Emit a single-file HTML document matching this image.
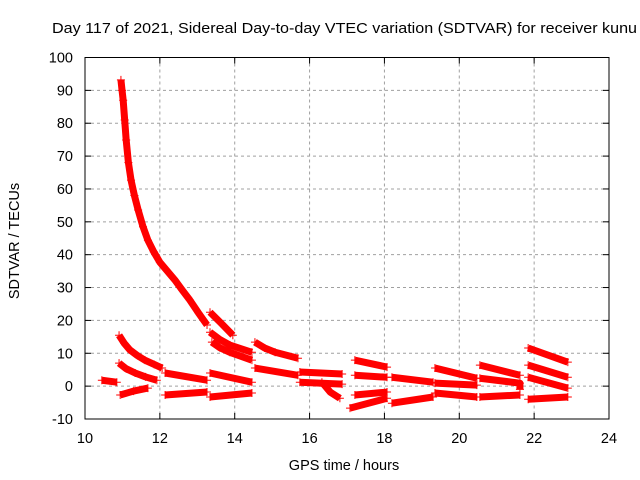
<!DOCTYPE html>
<html><head><meta charset="utf-8"><style>
html,body{margin:0;padding:0;background:#fff;}
svg{display:block;font-family:"Liberation Sans",Arial,sans-serif;}
</style></head><body>
<svg id="chart" width="640" height="480" viewBox="0 0 640 480" xmlns="http://www.w3.org/2000/svg">
<rect width="640" height="480" fill="#fff"/>
<text x="52" y="33" font-size="15" fill="#000" textLength="585" lengthAdjust="spacingAndGlyphs">Day 117 of 2021, Sidereal Day-to-day VTEC variation (SDTVAR) for receiver kunu</text>
<g id="grid"></g>
<g id="series"></g>
<g id="axes"></g>
<text x="344" y="470" font-size="14.5" text-anchor="middle">GPS time / hours</text>
<text x="0" y="0" font-size="14.5" text-anchor="middle" transform="translate(19,241) rotate(-90)">SDTVAR / TECUs</text>
</svg>
<script>
const xTicks = [10,12,14,16,18,20,22,24];
const yTicks = [-10,0,10,20,30,40,50,60,70,80,90,100];
const segT = [
 [10.96,10.99,11.02,11.06,11.1,11.16,11.23,11.32,11.42,11.55,11.68,11.84,12.0,12.2,12.4,12.6,12.8,13.03,13.26],
 [13.34,13.65,13.95],
 [10.91,11.05,11.2,11.4,11.6,11.85,12.06],
 [10.91,11.1,11.34,11.62,11.92],
 [10.94,11.3,11.68],
 [10.45,10.85],
 [12.14,13.26],
 [12.14,13.26],
 [13.34,13.6,13.87,14.46],
 [13.39,13.6,13.87,14.46],
 [13.34,14.46],
 [13.34,14.46],
 [14.54,14.8,15.08,15.69],
 [14.54,15.69],
 [15.74,16.87],
 [15.74,16.87],
 [16.33,16.55,16.81],
 [17.21,18.07],
 [17.21,18.07],
 [17.08,18.07],
 [17.21,18.07],
 [18.2,19.3],
 [18.2,19.3],
 [19.35,20.47],
 [19.35,20.47],
 [19.35,20.47],
 [20.55,21.62],
 [20.55,21.62,21.62],
 [20.55,21.62],
 [21.84,22.9],
 [21.84,22.9],
 [21.84,22.9],
 [21.84,22.9]
];
const segV = [
 [93.2,90,87,81,74.9,68,62.7,58,53.6,48.5,44.4,40.8,37.7,35,32.3,29.2,26.2,22.3,18.6],
 [22.5,19,15.5],
 [15.5,13,11,9.3,7.9,6.6,5.5],
 [7,5.3,4,2.8,1.8],
 [-2.7,-1.5,-0.6],
 [1.8,1.2],
 [4,1.8],
 [-2.7,-1.8],
 [16.4,14.2,12.5,10.3],
 [13.4,11.7,10.3,7.9],
 [4,1.2],
 [-3.3,-2.1],
 [13.4,11.6,10.3,8.5],
 [5.5,3.3],
 [4.3,3.7],
 [1.2,0.6],
 [1.2,-1.8,-3.7],
 [7.9,5.8],
 [3.3,2.7],
 [-6.7,-3.7],
 [-2.7,-1.8],
 [2.7,1.2],
 [-5.2,-3.3],
 [5.5,2.4],
 [0.9,0.3],
 [-2.1,-3.3],
 [6.4,3.3],
 [2.4,0.9,-1],
 [-3.3,-2.7],
 [11.6,7.3],
 [6.4,2.7],
 [2.7,-0.6],
 [-4,-3.3]
];
const X0=85,X1=609,Y0=419,Y1=57.5;
function xs(t){return X0+(t-10)/14*(X1-X0);}
function ys(v){return Y0-(v+10)/110*(Y0-Y1);}
const NS="http://www.w3.org/2000/svg";
function mk(tag,attrs,parent){const e=document.createElementNS(NS,tag);for(const k in attrs)e.setAttribute(k,attrs[k]);parent.appendChild(e);return e;}
const grid=document.getElementById('grid'),axes=document.getElementById('axes'),series=document.getElementById('series');
xTicks.forEach((t,i)=>{
 const x=xs(t);
 if(i>0&&i<xTicks.length-1){
  const g=mk('line',{x1:x,x2:x,y1:Y1,y2:Y0,stroke:'#a0a0a0','stroke-width':1,'stroke-dasharray':'3,3'},grid);
  
  
 }
 mk('line',{x1:x,x2:x,y1:Y0,y2:Y0-6,stroke:'#000'},axes);
 mk('line',{x1:x,x2:x,y1:Y1,y2:Y1+6,stroke:'#000'},axes);
 const l=mk('text',{x:x,y:443,'font-size':14.5,'text-anchor':'middle'},axes);
 l.textContent=t;
 
 
});
yTicks.forEach((v,i)=>{
 const y=ys(v);
 if(i>0&&i<yTicks.length-1){
  const g=mk('line',{x1:X0,x2:X1,y1:y,y2:y,stroke:'#a0a0a0','stroke-width':1,'stroke-dasharray':'3,3'},grid);
  
  
 }
 mk('line',{x1:X0,x2:X0+6,y1:y,y2:y,stroke:'#000'},axes);
 mk('line',{x1:X1,x2:X1-6,y1:y,y2:y,stroke:'#000'},axes);
 const l=mk('text',{x:73,y:y+5,'font-size':14.5,'text-anchor':'end'},axes);
 l.textContent=v;
 
 
});
const frame=mk('rect',{x:X0,y:Y1,width:X1-X0,height:Y0-Y1,fill:'none',stroke:'#000','stroke-width':1},axes);


segT.forEach((ts,si)=>{
 const vs=segV[si];
 const pts=ts.map((t,j)=>xs(t)+','+ys(vs[j])).join(' ');
 const pl=mk('polyline',{points:pts,fill:'none',stroke:'#ff0000','stroke-width':7,'stroke-linejoin':'round'},series);
 
 
 ts.forEach((t,j)=>{
  const x=xs(t),y=ys(vs[j]);
  const p=mk('path',{d:`M${x-4},${y}H${x+4}M${x},${y-4}V${y+4}`,stroke:'#ff0000','stroke-width':1},series);
  
  
 });
});
</script>
</body></html>
